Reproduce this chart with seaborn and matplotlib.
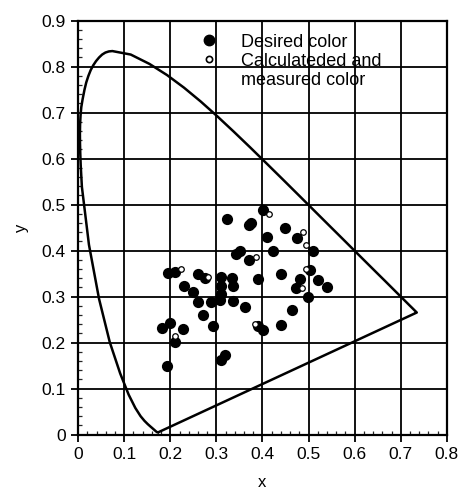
import numpy as np
import pandas as pd
import matplotlib
matplotlib.use("Agg")
import matplotlib.pyplot as plt
from matplotlib.ticker import MultipleLocator, AutoMinorLocator
from matplotlib.lines import Line2D
import seaborn as sns

# CIE 1931 spectral locus (380..700 nm), closed by the purple line
locus_x = [0.1741, 0.1733, 0.1714, 0.1689, 0.1644, 0.1611, 0.1566, 0.1510, 0.1440,
           0.1355, 0.1241, 0.1096, 0.0913, 0.0687, 0.0454, 0.0235, 0.0082, 0.0069,
           0.0056, 0.0047, 0.0041, 0.0039, 0.0043, 0.0053, 0.0069, 0.0098, 0.0139,
           0.0177, 0.0223, 0.0273, 0.0329, 0.0389, 0.0454, 0.0521, 0.0592, 0.0666,
           0.0743, 0.1142, 0.1547, 0.1929, 0.2296, 0.2658, 0.3016, 0.3373, 0.3731,
           0.4087, 0.4441, 0.4788, 0.5125, 0.5448, 0.5752, 0.6029, 0.6270, 0.6482,
           0.6658, 0.6915, 0.7079, 0.7190, 0.7260, 0.7300, 0.7334, 0.7347, 0.1741]
locus_y = [0.0050, 0.0048, 0.0051, 0.0069, 0.0109, 0.0138, 0.0177, 0.0227, 0.0297,
           0.0399, 0.0578, 0.0868, 0.1327, 0.2007, 0.2950, 0.4127, 0.5384, 0.5619,
           0.5858, 0.6103, 0.6334, 0.6548, 0.6749, 0.6940, 0.7120, 0.7294, 0.7502,
           0.7658, 0.7799, 0.7924, 0.8030, 0.8120, 0.8198, 0.8262, 0.8306, 0.8330,
           0.8338, 0.8262, 0.8059, 0.7816, 0.7543, 0.7243, 0.6923, 0.6589, 0.6245,
           0.5896, 0.5547, 0.5202, 0.4866, 0.4544, 0.4242, 0.3965, 0.3725, 0.3514,
           0.3340, 0.3083, 0.2920, 0.2809, 0.2740, 0.2700, 0.2666, 0.2653, 0.0050]

desired_x = [0.401, 0.322, 0.371, 0.376, 0.448, 0.474, 0.409, 0.351, 0.342, 0.423,
             0.510, 0.370, 0.195, 0.210, 0.260, 0.275, 0.311, 0.333, 0.336, 0.311,
             0.311, 0.390, 0.440, 0.481, 0.472, 0.503, 0.521, 0.540, 0.230, 0.249,
             0.260, 0.289, 0.307, 0.336, 0.363, 0.499, 0.463, 0.271, 0.293, 0.401,
             0.390, 0.441, 0.182, 0.199, 0.228, 0.210, 0.192, 0.311, 0.318]
desired_y = [0.488, 0.469, 0.456, 0.460, 0.449, 0.427, 0.429, 0.399, 0.393, 0.399,
             0.400, 0.380, 0.351, 0.354, 0.349, 0.340, 0.343, 0.340, 0.323, 0.322,
             0.306, 0.338, 0.349, 0.338, 0.318, 0.358, 0.336, 0.320, 0.322, 0.310,
             0.289, 0.289, 0.293, 0.291, 0.278, 0.298, 0.270, 0.260, 0.237, 0.228,
             0.235, 0.238, 0.231, 0.242, 0.229, 0.201, 0.148, 0.162, 0.172]

measured_x = [0.414, 0.487, 0.494, 0.385, 0.223, 0.282, 0.383, 0.210, 0.495, 0.485]
measured_y = [0.479, 0.440, 0.412, 0.387, 0.360, 0.343, 0.241, 0.215, 0.360, 0.318]

sns.set_style("ticks")
plt.rcParams['font.family'] = ['Liberation Sans', 'DejaVu Sans']
plt.rcParams['text.color'] = 'black'
plt.rcParams['axes.labelcolor'] = 'black'

fig = plt.figure(figsize=(4.65, 4.91), dpi=100)
ax = fig.add_axes([0.168, 0.115, 0.793, 0.843])

ax.grid(True, color='black', linewidth=1.3)
ax.set_axisbelow(True)

locus = pd.DataFrame({'x': locus_x, 'y': locus_y})
sns.lineplot(data=locus, x='x', y='y', sort=False, estimator=None,
             color='black', linewidth=1.8, ax=ax)

sns.scatterplot(x=desired_x, y=desired_y, s=65, color='black',
                edgecolor='black', linewidth=0, ax=ax, zorder=3)
sns.scatterplot(x=measured_x, y=measured_y, s=16, facecolor='white',
                edgecolor='black', linewidth=0.9, ax=ax, zorder=4)

ax.set_xlim(0, 0.8)
ax.set_ylim(0, 0.9)
ax.xaxis.set_major_locator(MultipleLocator(0.1))
ax.yaxis.set_major_locator(MultipleLocator(0.1))
ax.xaxis.set_minor_locator(AutoMinorLocator(5))
ax.yaxis.set_minor_locator(AutoMinorLocator(5))
ax.xaxis.set_major_formatter(plt.FuncFormatter(lambda v, p: f"{v:g}"))
ax.yaxis.set_major_formatter(plt.FuncFormatter(lambda v, p: f"{v:g}"))
ax.tick_params(which='major', direction='out', length=5, width=1.3,
               labelsize=12.5, colors='black', pad=4)
ax.tick_params(which='minor', direction='in', length=3, width=0.9)
for s in ax.spines.values():
    s.set_color('black')
    s.set_linewidth(1.6)

ax.set_xlabel('x', fontsize=12, labelpad=9)
ax.set_ylabel('y', fontsize=12, labelpad=9)

handles = [
    Line2D([], [], marker='o', linestyle='none', color='black', markersize=7.5),
    Line2D([], [], marker='o', linestyle='none', markerfacecolor='white',
           markeredgecolor='black', markeredgewidth=1.2, markersize=4.5),
    Line2D([], [], linestyle='none'),
]
labels = ['Desired color', 'Calculateded and', 'measured color']
leg = ax.legend(handles, labels, loc='upper left', bbox_to_anchor=(0.30, 0.995),
                frameon=False, fontsize=13, handlelength=1.0, handletextpad=1.3,
                labelspacing=0.12, borderaxespad=0.2)
for t in leg.get_texts():
    t.set_color('black')

fig.savefig('out.png', dpi=100)
